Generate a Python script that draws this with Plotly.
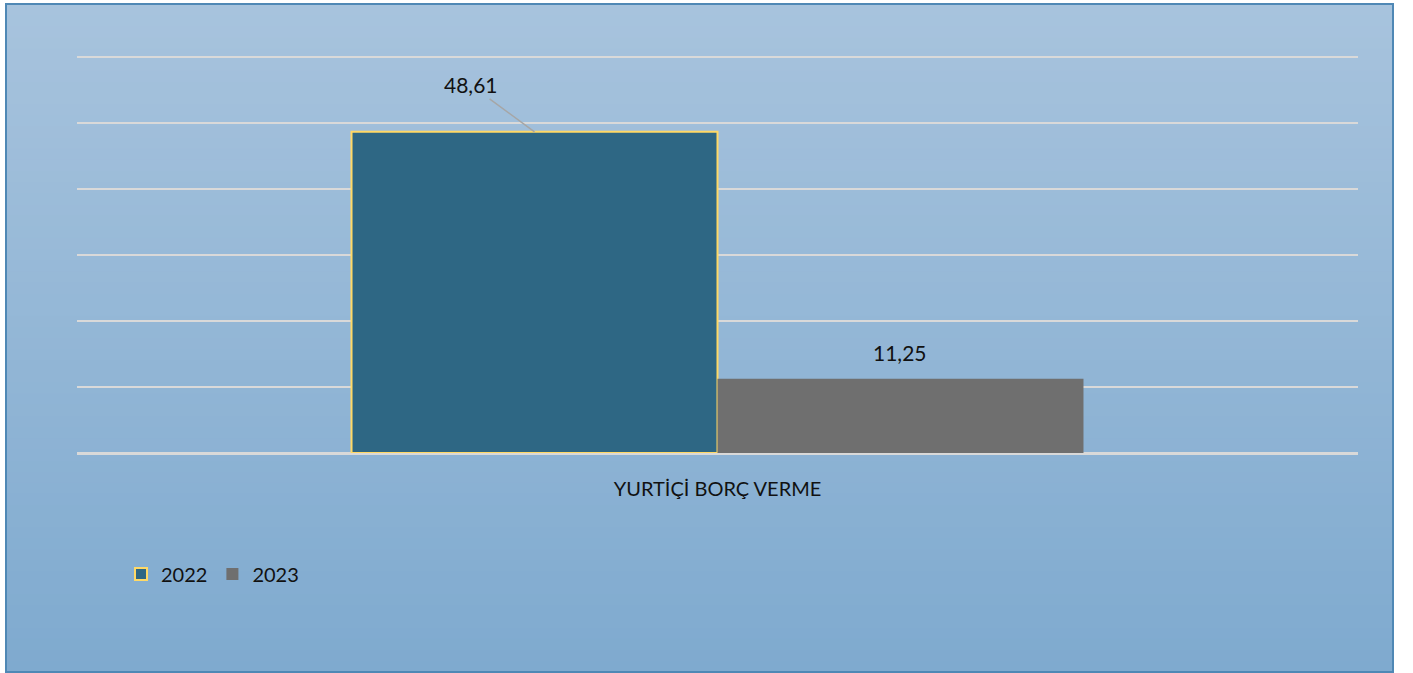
import plotly.graph_objects as go

categories = ["YURTİÇİ BORÇ VERME"]
series_names = ["2022", "2023"]
values_2022 = [48.61]
values_2023 = [11.25]
labels_2022 = ["48,61"]
labels_2023 = ["11,25"]

W, H = 1413, 673
L, R, T, B = 77, 55, 50, 220
pw, ph = W - L - R, H - T - B

def px_x(p):
    return (p - L) / pw

def px_y(p):
    return (H - B - p) / ph

FONT = "Lato, Carlito, Calibri, sans-serif"

fig = go.Figure()
bw = 0.2857
fig.add_trace(go.Bar(x=[0], y=values_2022, name=series_names[0], width=bw, offset=-bw,
                     marker=dict(color="#2e6784", line=dict(color="#ffd966", width=2))))
fig.add_trace(go.Bar(x=[0], y=values_2023, name=series_names[1], width=bw, offset=0,
                     marker=dict(color="#6f6f6f", line=dict(width=0))))

# gradient background strips
shapes = []
top = (167, 195, 221)
bot = (127, 170, 207)
n = 60
y0p, y1p = 4, 672
for i in range(n):
    t = i / (n - 1)
    c = tuple(int(round(top[k] + (bot[k] - top[k]) * t)) for k in range(3))
    a = y0p + (y1p - y0p) * i / n
    b = y0p + (y1p - y0p) * (i + 1) / n + 1
    shapes.append(dict(type="rect", xref="paper", yref="paper", layer="below",
                       x0=px_x(6), x1=px_x(1393), y0=px_y(min(b, y1p)), y1=px_y(a),
                       fillcolor="rgb(%d,%d,%d)" % c, line=dict(width=0)))
shapes.append(dict(type="rect", xref="paper", yref="paper", layer="above",
                   x0=px_x(6), x1=px_x(1393), y0=px_y(672), y1=px_y(4),
                   fillcolor="rgba(0,0,0,0)", line=dict(color="#4f88b5", width=2)))

fig.update_layout(
    width=W, height=H, autosize=False,
    margin=dict(l=L, r=R, t=T, b=B),
    paper_bgcolor="white", plot_bgcolor="rgba(0,0,0,0)",
    shapes=shapes,
    font=dict(family=FONT, size=19, color="#111111"),
    showlegend=True,
    legend=dict(orientation="h", x=px_x(121), xanchor="left", y=px_y(574), yanchor="middle",
                bgcolor="rgba(0,0,0,0)", font=dict(size=20), itemwidth=30, traceorder="normal"),
    xaxis=dict(range=[-0.5, 0.5], tickmode="array", tickvals=[0], ticktext=categories,
               showgrid=False, zeroline=False, showline=False, ticks="",
               ticklabelstandoff=22, tickfont=dict(size=20)),
    yaxis=dict(range=[0, 61], tickvals=[10, 20, 30, 40, 50, 60], showticklabels=False, ticks="",
               gridcolor="#d9d9d9", gridwidth=2, zeroline=True, zerolinecolor="#d9d9d9",
               zerolinewidth=3, showline=False),
    annotations=[
        dict(x=-bw / 2, y=values_2022[0], xref="x", yref="y", text=labels_2022[0],
             showarrow=True, arrowhead=0, arrowcolor="#a6a6a6", arrowwidth=1.5,
             ax=-64, ay=-47, font=dict(size=21)),
        dict(x=bw / 2, y=values_2023[0], xref="x", yref="y", text=labels_2023[0],
             showarrow=False, yanchor="bottom", yshift=12, font=dict(size=21)),
    ],
)

fig.write_html("out.html", config={"displayModeBar": False},
               post_script="document.body.style.margin='0px';")
